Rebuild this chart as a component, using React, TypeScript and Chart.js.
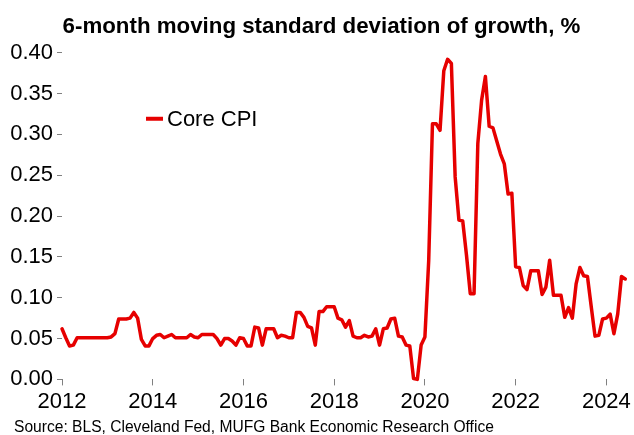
import { useEffect, useRef } from "react";
import { Chart, registerables } from "chart.js";

Chart.register(...registerables);

const chartTitle = "6-month moving standard deviation of growth, %";
const sourceNote = "Source: BLS, Cleveland Fed, MUFG Bank Economic Research Office";
const seriesLabel = "Core CPI";
const startYear = 2012; // first observation: January 2012, monthly thereafter

// Core CPI, 6-month moving standard deviation of m/m growth, % (Jan 2012 .. Jul 2024)
const coreCpi = [
  // 2012
  0.062, 0.051, 0.041, 0.042, 0.051, 0.051, 0.051, 0.051, 0.051, 0.051, 0.051, 0.051,
  // 2013
  0.051, 0.052, 0.056, 0.074, 0.074, 0.074, 0.075, 0.082, 0.075, 0.049, 0.041, 0.041,
  // 2014
  0.050, 0.054, 0.055, 0.051, 0.053, 0.055, 0.051, 0.051, 0.051, 0.051, 0.055, 0.052,
  // 2015
  0.051, 0.055, 0.055, 0.055, 0.055, 0.050, 0.042, 0.050, 0.050, 0.047, 0.042, 0.051,
  // 2016
  0.050, 0.041, 0.041, 0.064, 0.063, 0.042, 0.062, 0.062, 0.062, 0.051, 0.054, 0.053,
  // 2017
  0.051, 0.051, 0.082, 0.082, 0.076, 0.065, 0.063, 0.042, 0.083, 0.083, 0.089, 0.089,
  // 2018
  0.089, 0.075, 0.073, 0.064, 0.072, 0.053, 0.051, 0.051, 0.054, 0.052, 0.053, 0.062,
  // 2019
  0.042, 0.062, 0.063, 0.074, 0.075, 0.053, 0.052, 0.042, 0.041, 0.001, 0.000, 0.042,
  // 2020
  0.052, 0.145, 0.313, 0.313, 0.305, 0.378, 0.392, 0.387, 0.248, 0.195, 0.194, 0.152,
  // 2021
  0.105, 0.105, 0.289, 0.342, 0.371, 0.310, 0.308, 0.292, 0.276, 0.264, 0.227, 0.228,
  // 2022
  0.138, 0.137, 0.115, 0.110, 0.133, 0.133, 0.133, 0.104, 0.113, 0.146, 0.103, 0.103,
  // 2023
  0.103, 0.076, 0.088, 0.075, 0.117, 0.137, 0.127, 0.126, 0.089, 0.053, 0.054, 0.074,
  // 2024
  0.075, 0.080, 0.056, 0.080, 0.126, 0.123,
];

const xTickYears = [2012, 2014, 2016, 2018, 2020, 2022, 2024];
const yTickValues = [0, 0.05, 0.1, 0.15, 0.2, 0.25, 0.3, 0.35, 0.4];

const lineColor = "rgb(230, 0, 0)";
const fontFamily = "'Liberation Sans', Arial, Helvetica, sans-serif";

// widen the y-axis label clip box so the labels can extend into the left padding
const unclipYLabels = {
  id: "unclipYLabels",
  afterLayout(chart: any) {
    const y = chart.scales.y;
    if (y) y.left = 0;
  },
};

const insideLegend = {
  id: "insideLegend",
  afterDatasetsDraw(chart: any) {
    const { ctx, chartArea } = chart;
    const ds = chart.data.datasets[0];
    const x = chartArea.left + 84;
    const y = chartArea.top + 66;
    ctx.save();
    ctx.strokeStyle = ds.borderColor;
    ctx.lineWidth = 4;
    ctx.beginPath();
    ctx.moveTo(x, y);
    ctx.lineTo(x + 17, y);
    ctx.stroke();
    ctx.fillStyle = "#000";
    ctx.font = `22px ${fontFamily}`;
    ctx.textBaseline = "middle";
    ctx.textAlign = "left";
    ctx.fillText(ds.label, x + 21, y + 1);
    ctx.restore();
  },
};

export default function App() {
  const canvasRef = useRef<HTMLCanvasElement | null>(null);

  useEffect(() => {
    document.body.style.margin = "0";
    const canvas = canvasRef.current;
    if (!canvas) return;
    const points = coreCpi.map((v, i) => ({ x: startYear + i / 12, y: v }));
    const chart = new Chart(canvas, {
      type: "line",
      data: {
        datasets: [
          {
            label: seriesLabel,
            data: points,
            borderColor: lineColor,
            backgroundColor: lineColor,
            borderWidth: 3.5,
            pointRadius: 0,
            tension: 0,
            borderJoinStyle: "round",
            borderCapStyle: "round",
            clip: 8,
          } as any,
        ],
      },
      options: {
        animation: false,
        responsive: true,
        maintainAspectRatio: false,
        layout: { padding: { left: 14, right: 5, top: 0, bottom: 0 } },
        plugins: {
          legend: { display: false },
          tooltip: { enabled: false },
          title: {
            display: true,
            text: chartTitle,
            color: "#000",
            font: { family: fontFamily, size: 22.3, weight: "bold", lineHeight: 1.2 },
            padding: { top: 13, bottom: 13 },
          },
          subtitle: {
            display: true,
            position: "bottom",
            align: "start",
            text: sourceNote,
            color: "#000",
            font: { family: fontFamily, size: 15.6, lineHeight: 1 },
            padding: { top: 6, bottom: 0 },
          },
        },
        scales: {
          x: {
            type: "linear",
            min: startYear,
            max: startYear + (coreCpi.length - 1) / 12,
            afterBuildTicks: (s: any) => {
              s.ticks = xTickYears.map((v) => ({ value: v }));
            },
            afterFit: (s: any) => {
              s.height = 34;
            },
            grid: {
              display: true,
              drawOnChartArea: false,
              drawTicks: true,
              tickLength: 6,
              color: "#808080",
              lineWidth: 1,
            },
            border: { display: false },
            ticks: {
              color: "#000",
              font: { family: fontFamily, size: 22 },
              padding: 3,
              maxRotation: 0,
              autoSkip: false,
              callback: (v: any) => String(v),
            },
          },
          y: {
            min: 0,
            max: 0.4,
            afterBuildTicks: (s: any) => {
              s.ticks = yTickValues.map((v) => ({ value: v }));
            },
            afterFit: (s: any) => {
              s.width = 48;
            },
            grid: {
              display: true,
              drawOnChartArea: false,
              drawTicks: true,
              tickLength: 5,
              color: "#808080",
              lineWidth: 1,
            },
            border: { display: false },
            ticks: {
              color: "#000",
              font: { family: fontFamily, size: 22 },
              padding: 4,
              callback: (v: any) => Number(v).toFixed(2),
            },
          },
        },
      },
      plugins: [unclipYLabels, insideLegend],
    });
    return () => chart.destroy();
  }, []);

  return (
    <div style={{ position: "relative", width: 634, height: 435 }}>
      <canvas ref={canvasRef} />
    </div>
  );
}
